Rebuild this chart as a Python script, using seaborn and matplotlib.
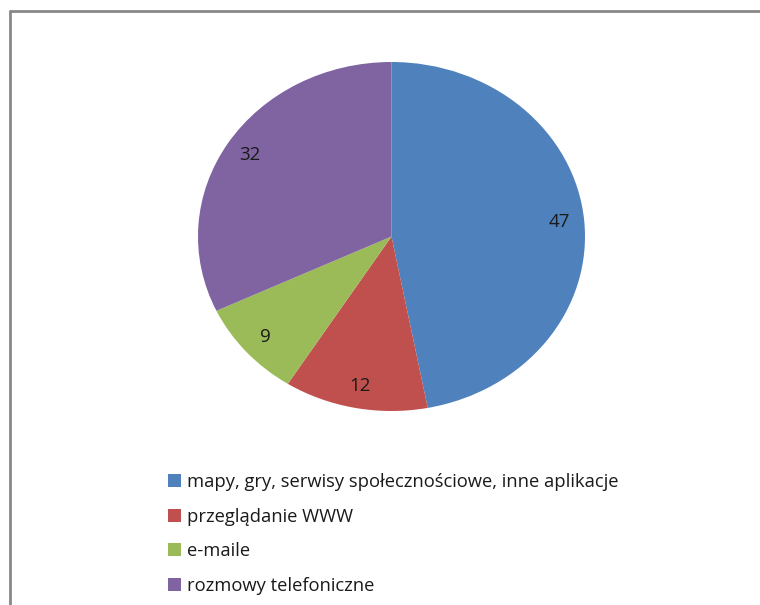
import matplotlib
matplotlib.use("Agg")
import matplotlib.pyplot as plt
from matplotlib.patches import Patch
from matplotlib.lines import Line2D
import seaborn as sns
import numpy as np

categories = ["mapy, gry, serwisy społecznościowe, inne aplikacje",
              "przeglądanie WWW",
              "e-maile",
              "rozmowy telefoniczne"]
values = [47, 12, 9, 32]
colors = ["#4F81BD", "#C0504D", "#9BBB59", "#8064A2"]

sns.set_theme(style="white")
plt.rcParams['font.family'] = ['Open Sans', 'DejaVu Sans']

W, H = 760, 605
fig = plt.figure(figsize=(W / 100, H / 100), dpi=100)
fig.patch.set_facecolor("white")

# pie axes spanning the (slightly elliptical) pie bounding box
left, right, top, bottom = 198, 585, 62, 411
ax = fig.add_axes([left / W, 1 - bottom / H, (right - left) / W, (bottom - top) / H])
wedges, texts = ax.pie(values, colors=sns.color_palette(colors), startangle=90,
                       counterclock=False, radius=1.0,
                       wedgeprops=dict(linewidth=0))
ax.set_aspect("auto")
ax.set_xlim(-1, 1)
ax.set_ylim(-1, 1)
ax.axis("off")

# data labels
total = sum(values)
ang = 90.0
for v in values:
    span = 360.0 * v / total
    mid = np.deg2rad(ang - span / 2)
    ang -= span
    r = 0.87
    ax.text(r * np.cos(mid), r * np.sin(mid), str(v), ha="center", va="center",
            fontsize=13.5, color="#1a1a1a")

# legend
fs = 13.2
handles = [Patch(facecolor=c, edgecolor="none") for c in colors]
fig.legend(handles, categories, loc="upper left",
           bbox_to_anchor=(159 / W, 1 - 464 / H), frameon=False,
           fontsize=fs, handlelength=0.7, handleheight=0.68,
           handletextpad=0.33, labelspacing=0.9, borderpad=0,
           labelcolor="#1a1a1a")

# chart frame (top and left borders)
fig.add_artist(Line2D([10 / W, 1], [1 - 11 / H, 1 - 11 / H], color="#888888", lw=2))
fig.add_artist(Line2D([10 / W, 10 / W], [0, 1 - 11 / H], color="#888888", lw=2))

fig.savefig("out.png", dpi=100, facecolor="white")
